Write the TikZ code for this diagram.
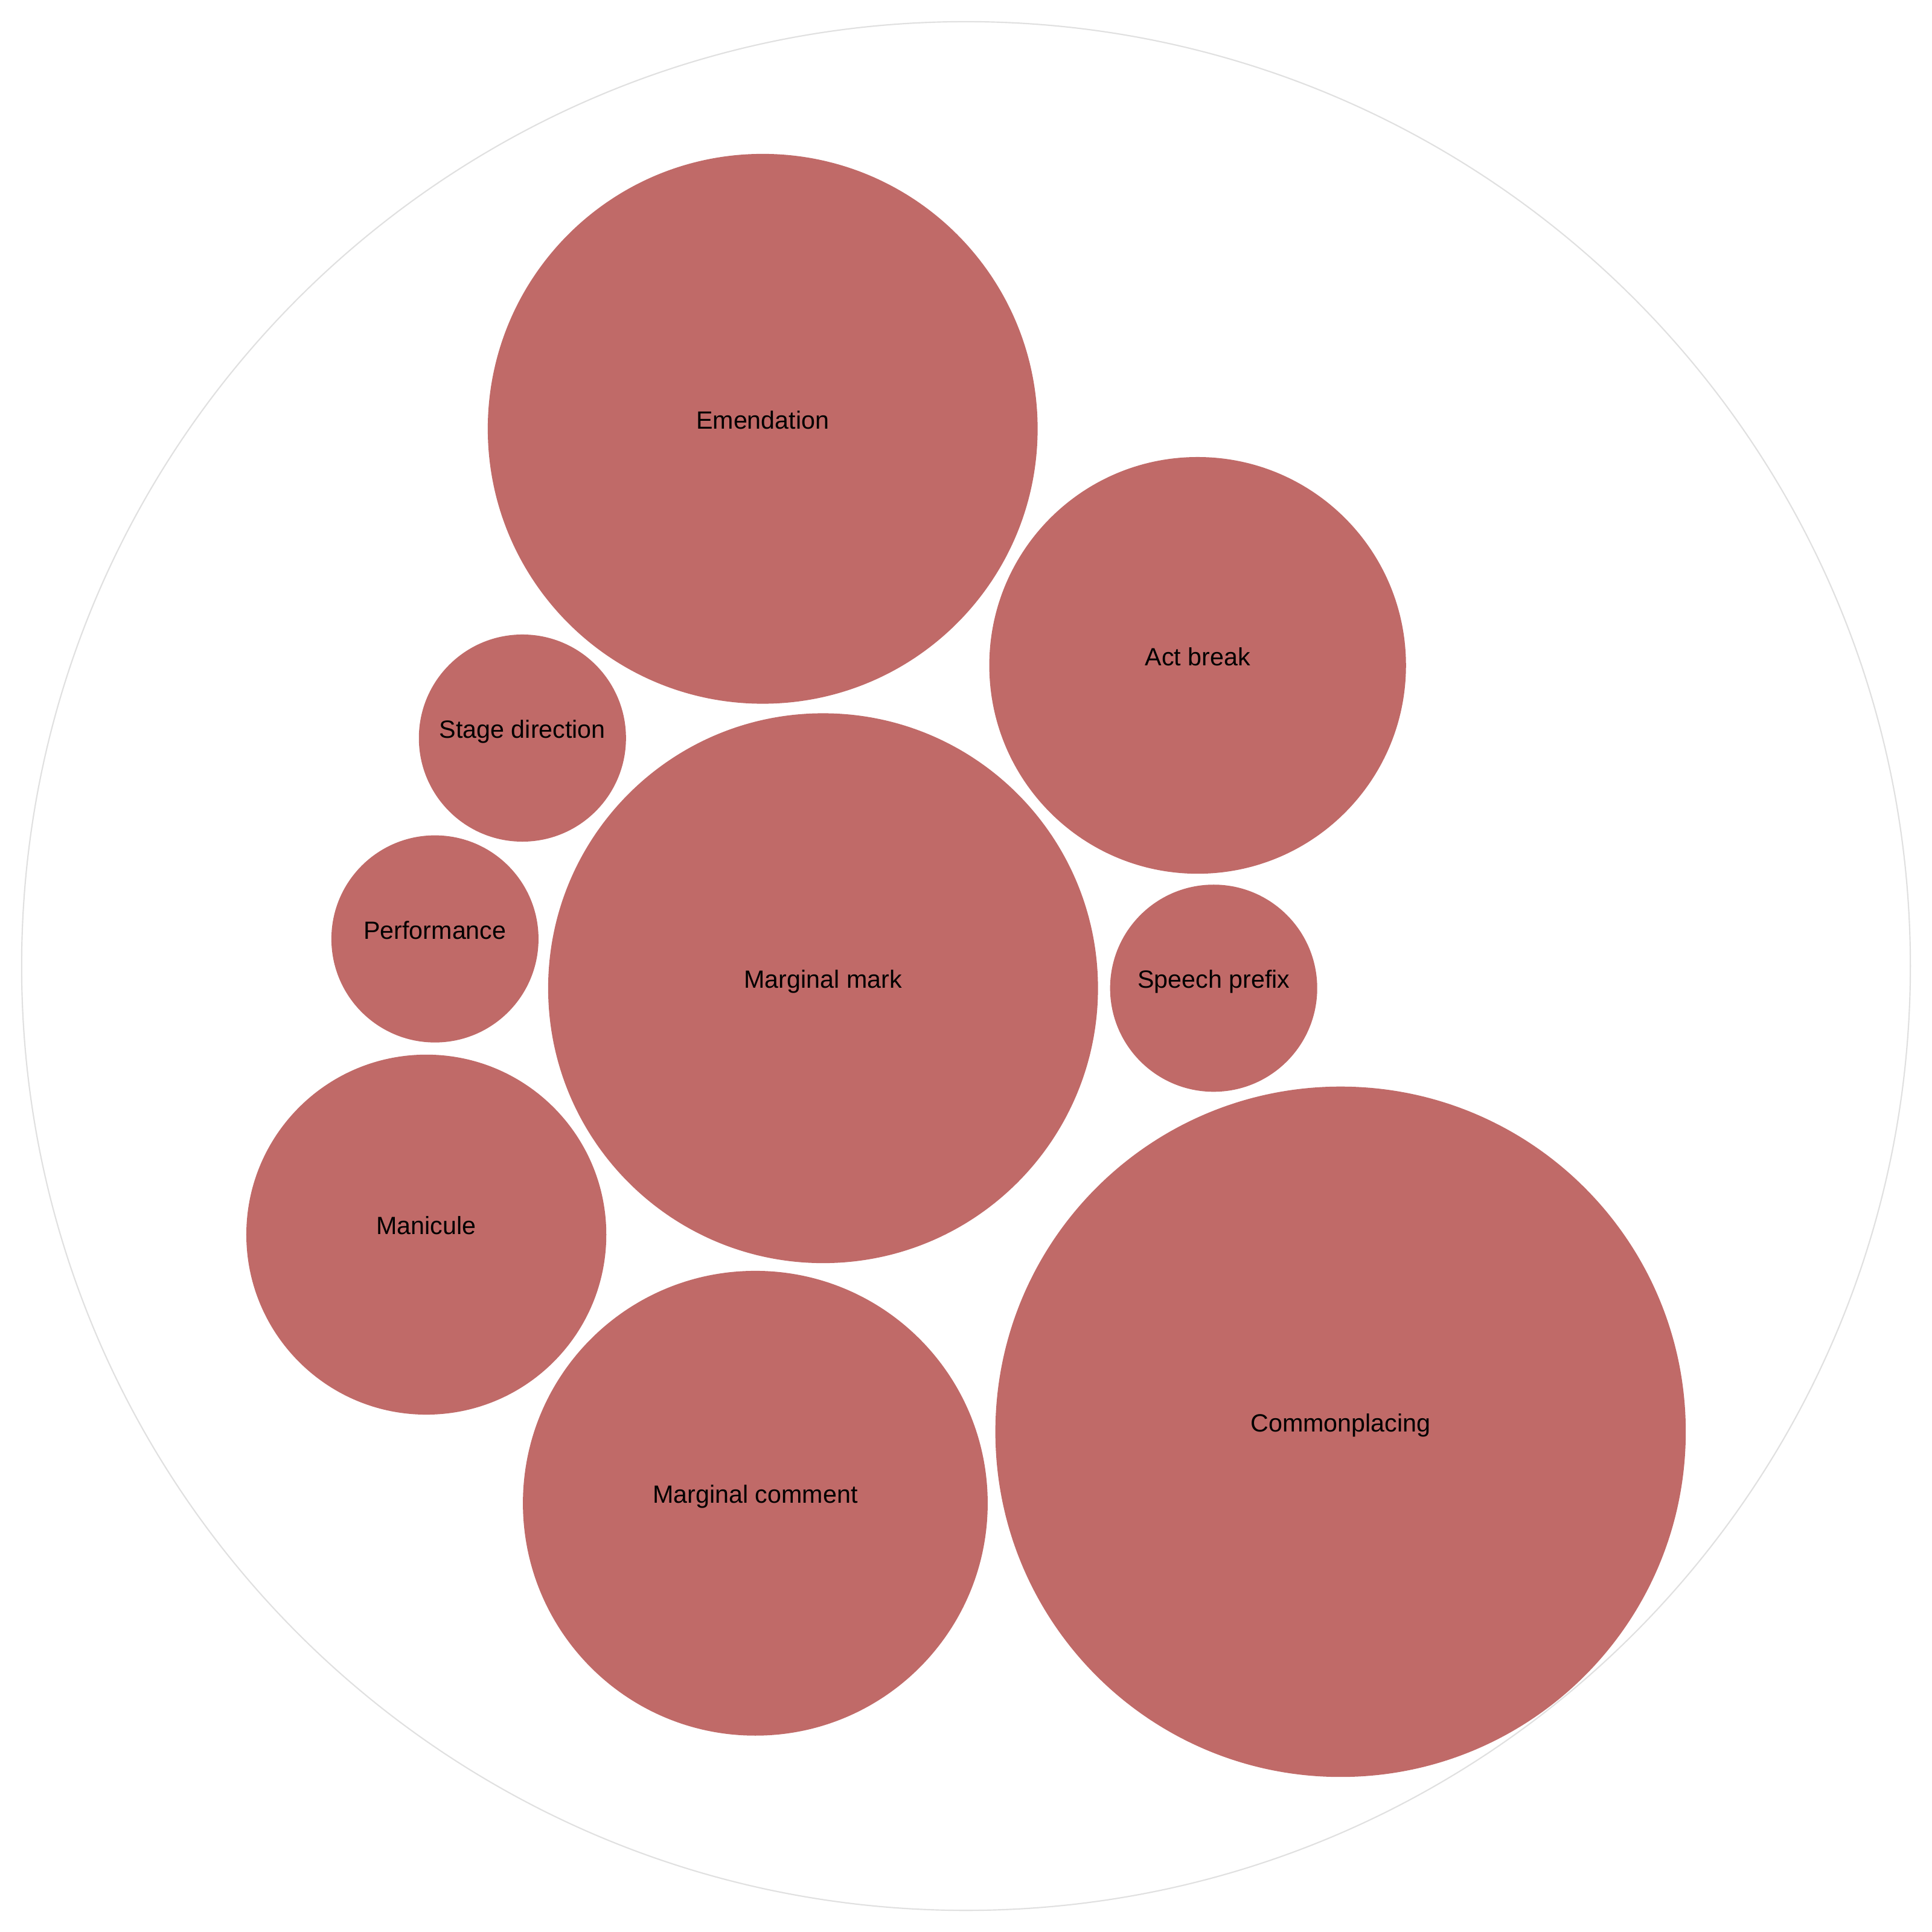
\documentclass[tikz,border=0pt]{standalone}
\usepackage{fontspec}
\setmainfont{Liberation Sans}
\definecolor{bubbleRed}{RGB}{192,106,104}
\definecolor{ringGray}{RGB}{224,224,224}

\begin{document}
\begin{tikzpicture}[
    x=0.01cm, y=-0.01cm,
    every node/.style={align=center, font=\fontsize{5.75pt}{6.5pt}\selectfont},
    outerRing/.style={circle, draw=ringGray, line width=0.3pt, inner sep=0pt},
    bubble/.style={circle, fill=bubbleRed, inner sep=0pt, text height=0pt, text depth=0pt}
]
\useasboundingbox (0,0) rectangle (1568,1568);

% Outer ring
\node[outerRing, minimum size=15.32cm] (v0) at (784,784) {};

% Bubbles
\node[bubble, minimum size=4.46cm] (v1) at (619,348) {Emendation};
\node[bubble, minimum size=3.38cm] (v2) at (972,540) {Act break};
\node[bubble, minimum size=1.68cm] (v3) at (424,599) {Stage direction};
\node[bubble, minimum size=1.68cm] (v4) at (353,762) {Performance};
\node[bubble, minimum size=4.46cm] (v5) at (668,802) {Marginal mark};
\node[bubble, minimum size=1.68cm] (v6) at (985,802) {Speech prefix};
\node[bubble, minimum size=2.92cm] (v7) at (346,1002) {Manicule};
\node[bubble, minimum size=3.77cm] (v8) at (613,1220) {Marginal comment};
\node[bubble, minimum size=5.60cm] (v9) at (1088,1162) {Commonplacing};

\end{tikzpicture}
\end{document}
